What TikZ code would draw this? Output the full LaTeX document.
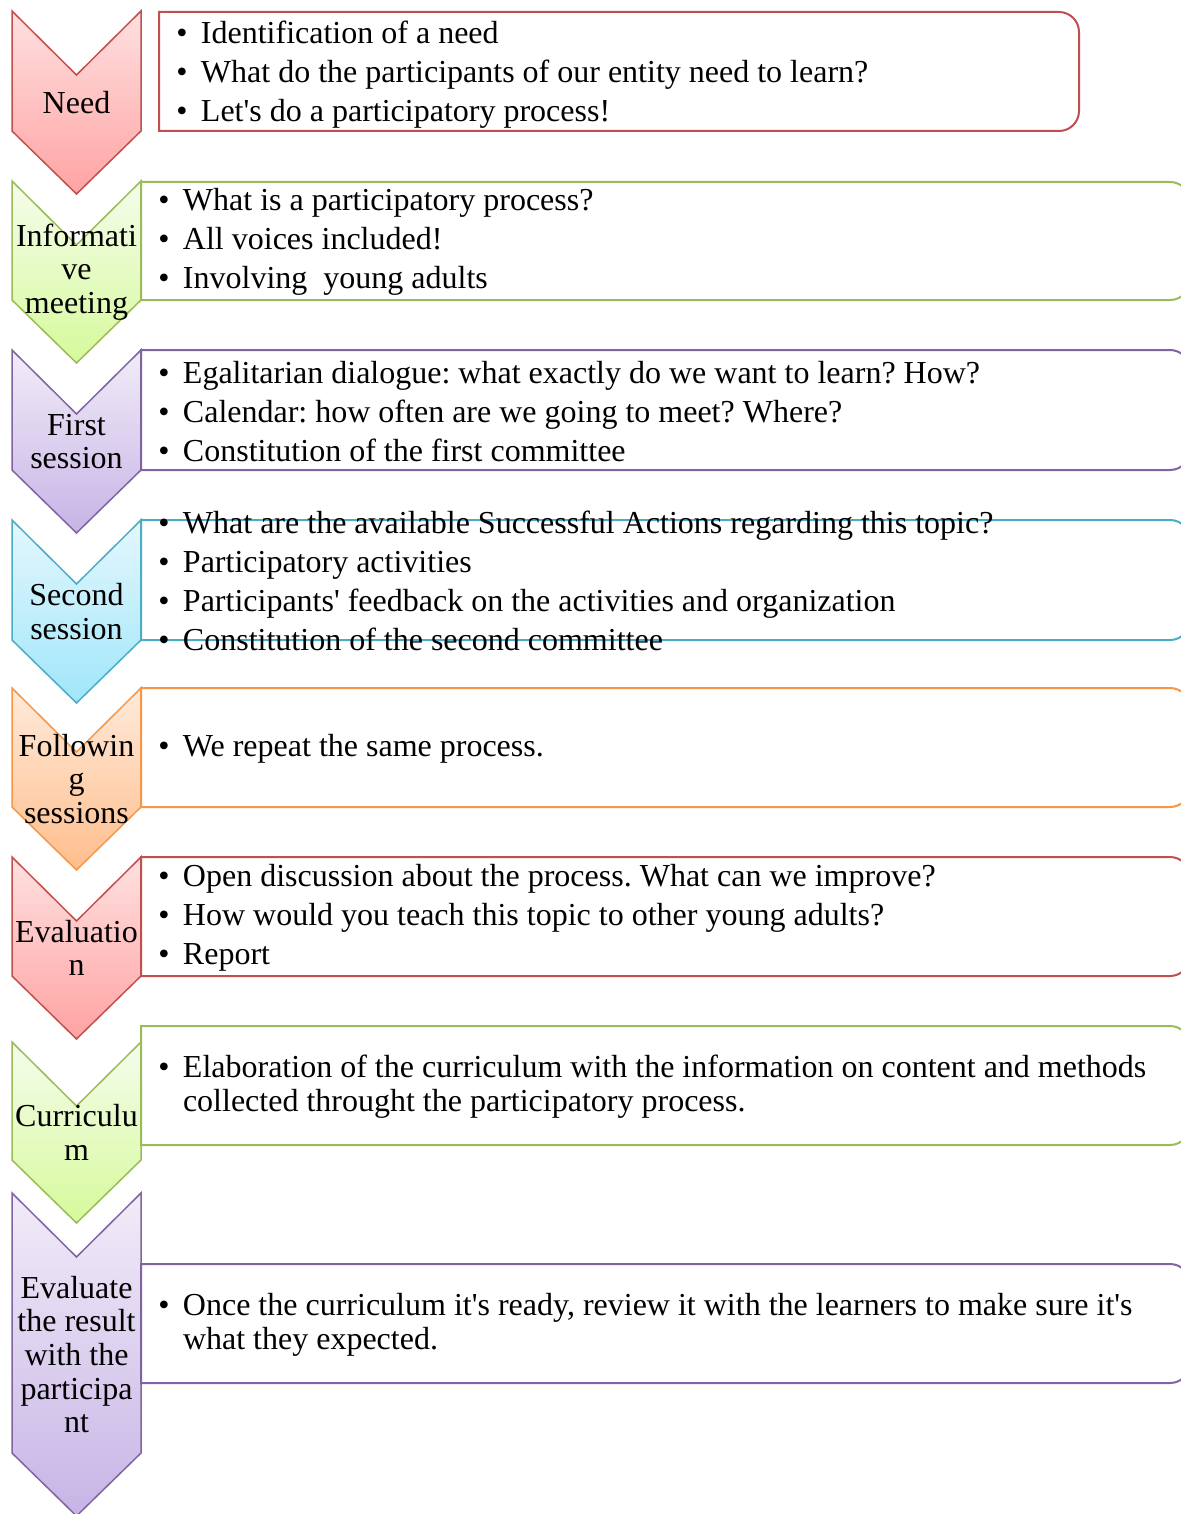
\documentclass[tikz,border=0pt]{standalone}
\usepackage{fontspec}
\setmainfont{Liberation Serif}
\usepackage{tikz}
\usepackage{xcolor}
\definecolor{redline}{HTML}{C0504D}
\definecolor{redtop}{RGB}{255,224,224}
\definecolor{redbot}{RGB}{255,163,163}
\definecolor{greenline}{HTML}{9BBB59}
\definecolor{greentop}{RGB}{245,252,236}
\definecolor{greenbot}{RGB}{214,250,155}
\definecolor{purpleline}{HTML}{8064A2}
\definecolor{purpletop}{RGB}{241,236,248}
\definecolor{purplebot}{RGB}{199,180,230}
\definecolor{cyanline}{HTML}{4BACC6}
\definecolor{cyantop}{RGB}{228,247,253}
\definecolor{cyanbot}{RGB}{160,230,250}
\definecolor{orangeline}{HTML}{F79646}
\definecolor{orangetop}{RGB}{255,234,218}
\definecolor{orangebot}{RGB}{255,190,140}
\frenchspacing
\tikzset{
	chev line/.style={line width=0.75pt}
}
\tikzstyle{redchev}=[draw=redline, top color=redtop, bottom color=redbot]
\tikzstyle{greenchev}=[draw=greenline, top color=greentop, bottom color=greenbot]
\tikzstyle{purplechev}=[draw=purpleline, top color=purpletop, bottom color=purplebot]
\tikzstyle{cyanchev}=[draw=cyanline, top color=cyantop, bottom color=cyanbot]
\tikzstyle{orangechev}=[draw=orangeline, top color=orangetop, bottom color=orangebot]
\tikzstyle{chevtext}=[align=center, inner sep=0pt, font=\fontsize{16}{16.8}\selectfont]
\tikzstyle{itemtext}=[align=left, anchor=west, inner sep=0pt, yshift=-0.6pt, font=\fontsize{16}{16.8}\selectfont]
\tikzstyle{stepbox}=[line width=1pt, fill=white]
\newcommand{\bul}{\makebox[12.3pt][l]{\textbullet}}
\newcommand{\chevNbox}[5]{
	\draw[chev line, #1] (12,#3) -- (76.5,#3+64) -- (141,#3) -- (141,#4) -- (76.5,#4+63) -- (12,#4) -- cycle;
	\node[chevtext] (#2) at (76.5,{(#3+#4+63)/2}) {#5};
}
\newcommand{\roundRbox}[5]{
	\draw[stepbox, draw=#1] (#2,#3) -- (#4-20,#3) arc[start angle=90, end angle=0, radius=10pt]
		-- (#4,#5-20) arc[start angle=0, end angle=-90, radius=10pt] -- (#2,#5) -- cycle;
}

\begin{document}
\begin{tikzpicture}[x=0.5pt, y=-0.5pt]
	\useasboundingbox (0,0) rectangle (1181,1514);
	\chevNbox{redchev}{need}{11}{131}{Need}
	\chevNbox{greenchev}{info}{181}{300}{Informati\\ve\\meeting}
	\chevNbox{purplechev}{first}{350}{470}{First\\session}
	\chevNbox{cyanchev}{second}{520}{640}{Second\\session}
	\chevNbox{orangechev}{follow}{688}{807}{Followin\\g\\sessions}
	\chevNbox{redchev}{eval}{857}{976}{Evaluatio\\n}
	\chevNbox{greenchev}{curric}{1042}{1160}{Curriculu\\m}
	\chevNbox{purplechev}{result}{1193}{1453}{Evaluate\\the result\\with the\\participa\\nt}
	\roundRbox{redline}{159}{12}{1079}{131}
	\roundRbox{greenline}{141}{182}{1190}{300}
	\roundRbox{purpleline}{141}{350}{1190}{470}
	\roundRbox{cyanline}{141}{520}{1190}{640}
	\roundRbox{orangeline}{141}{688}{1190}{807}
	\roundRbox{redline}{141}{857}{1190}{976}
	\roundRbox{greenline}{141}{1026}{1190}{1145}
	\roundRbox{purpleline}{141}{1264}{1190}{1383}
	\node[itemtext] (need-txt) at (176,73) {\bul Identification of a need\\[2.7pt]
		\bul What do the participants of our entity need to learn?\\[2.7pt]
		\bul Let\textquotesingle s do a participatory process!};
	\node[itemtext] (info-txt) at (158,241) {\bul What is a participatory process?\\[2.7pt]
		\bul All voices included!\\[2.7pt]
		\bul Involving\ \ young adults};
	\node[itemtext] (first-txt) at (158,410) {\bul Egalitarian dialogue: what exactly do we want to learn? How?\\[2.7pt]
		\bul Calendar: how often are we going to meet? Where?\\[2.7pt]
		\bul Constitution of the first committee};
	\node[itemtext] (second-txt) at (158,580) {\bul What are the available Successful Actions regarding this topic?\\[2.7pt]
		\bul Participatory activities\\[2.7pt]
		\bul Participants\textquotesingle\ feedback on the activities and organization\\[2.7pt]
		\bul Constitution of the second committee};
	\node[itemtext] (follow-txt) at (158,747.5) {\bul We repeat the same process.};
	\node[itemtext] (eval-txt) at (158,916.5) {\bul Open discussion about the process. What can we improve?\\[2.7pt]
		\bul How would you teach this topic to other young adults?\\[2.7pt]
		\bul Report};
	\node[itemtext] (curric-txt) at (158,1085.5) {\bul Elaboration of the curriculum with the information on content and methods\\
		\hspace*{12.3pt}collected throught the participatory process.};
	\node[itemtext] (result-txt) at (158,1323.5) {\bul Once the curriculum it\textquotesingle s ready, review it with the learners to make sure it\textquotesingle s\\
		\hspace*{12.3pt}what they expected.};
\end{tikzpicture}
\end{document}
